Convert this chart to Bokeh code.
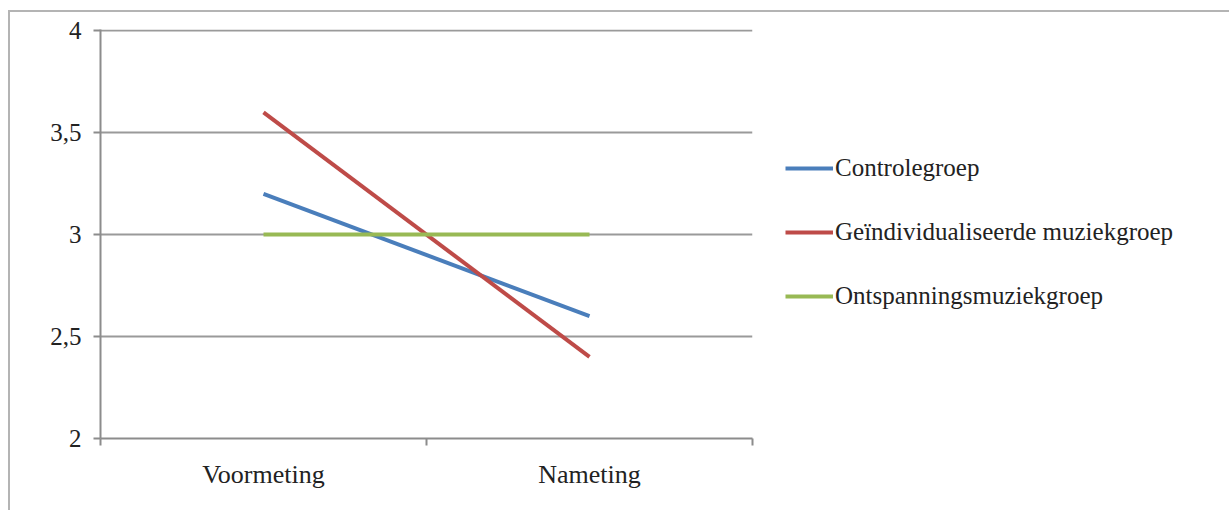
from bokeh.plotting import figure
from bokeh.models import FixedTicker, Range1d, Legend, LegendItem, ColumnDataSource
from bokeh.embed import file_html
from bokeh.resources import INLINE

categories = ["Voormeting", "Nameting"]
controle = [3.2, 2.6]
geindividualiseerd = [3.6, 2.4]
ontspanning = [3.0, 3.0]
series_names = ["Controlegroep", "Geïndividualiseerde muziekgroep", "Ontspanningsmuziekgroep"]
y_ticks = [2, 2.5, 3, 3.5, 4]
y_tick_labels = ["2", "2,5", "3", "3,5", "4"]

colors = ["#4a7ebb", "#be4b48", "#98b954"]
FONT = "Liberation Serif"

xpos = [i + 0.5 for i in range(len(categories))]

p = figure(width=1219, height=498, output_backend="svg", toolbar_location=None,
           x_range=Range1d(0, len(categories)), y_range=Range1d(2, 4.006),
           frame_width=652, frame_height=409,
           min_border_left=90, min_border_top=17, min_border_right=477, min_border_bottom=72)
p.styles = {"border-left": "2px solid #b4b4b4", "border-top": "2px solid #b4b4b4",
            "margin-top": "10px", "margin-left": "8px"}
p.outline_line_color = None
p.background_fill_color = "white"
p.border_fill_color = "white"

renderers = []
for vals, col in zip([controle, geindividualiseerd, ontspanning], colors):
    src = ColumnDataSource(dict(x=xpos, y=vals))
    r = p.line("x", "y", source=src, line_color=col, line_width=4)
    renderers.append(r)

# x axis
p.xaxis.ticker = FixedTicker(ticks=xpos, minor_ticks=list(range(len(categories) + 1)))
p.xaxis.major_label_overrides = {x: c for x, c in zip(xpos, categories)}
p.xaxis.major_tick_out = 0
p.xaxis.major_tick_in = 0
p.xaxis.minor_tick_out = 7
p.xaxis.minor_tick_in = 0
p.xaxis.minor_tick_line_color = "#8c8c8c"
p.xaxis.minor_tick_line_width = 2
p.xaxis.axis_line_color = "#8c8c8c"
p.xaxis.axis_line_width = 2
p.xaxis.major_label_standoff = 14
p.xaxis.major_label_text_font = FONT
p.xaxis.major_label_text_font_size = "26px"
p.xaxis.major_label_text_color = "#222222"

# y axis
p.yaxis.ticker = FixedTicker(ticks=y_ticks, minor_ticks=[])
p.yaxis.major_label_overrides = {t: l for t, l in zip(y_ticks, y_tick_labels)}
p.yaxis.major_tick_out = 7
p.yaxis.major_tick_in = 0
p.yaxis.major_tick_line_color = "#8c8c8c"
p.yaxis.major_tick_line_width = 2
p.yaxis.axis_line_color = "#8c8c8c"
p.yaxis.axis_line_width = 2
p.yaxis.major_label_standoff = 12
p.yaxis.major_label_text_font = FONT
p.yaxis.major_label_text_font_size = "25px"
p.yaxis.major_label_text_color = "#222222"

p.xgrid.grid_line_color = None
p.ygrid.ticker = FixedTicker(ticks=y_ticks[1:])
p.ygrid.grid_line_color = "#9a9a9a"
p.ygrid.grid_line_width = 2

legend = Legend(items=[LegendItem(label=n, renderers=[r]) for n, r in zip(series_names, renderers)],
                location=(33, 128))
legend.border_line_color = None
legend.background_fill_alpha = 0
legend.padding = 0
legend.margin = 0
legend.glyph_width = 48
legend.glyph_height = 20
legend.label_height = 20
legend.spacing = 36
legend.label_standoff = 2
legend.label_text_font = FONT
legend.label_text_font_size = "25px"
legend.label_text_color = "#222222"
p.add_layout(legend, "right")

open("out.html", "w").write(file_html(p, INLINE))
